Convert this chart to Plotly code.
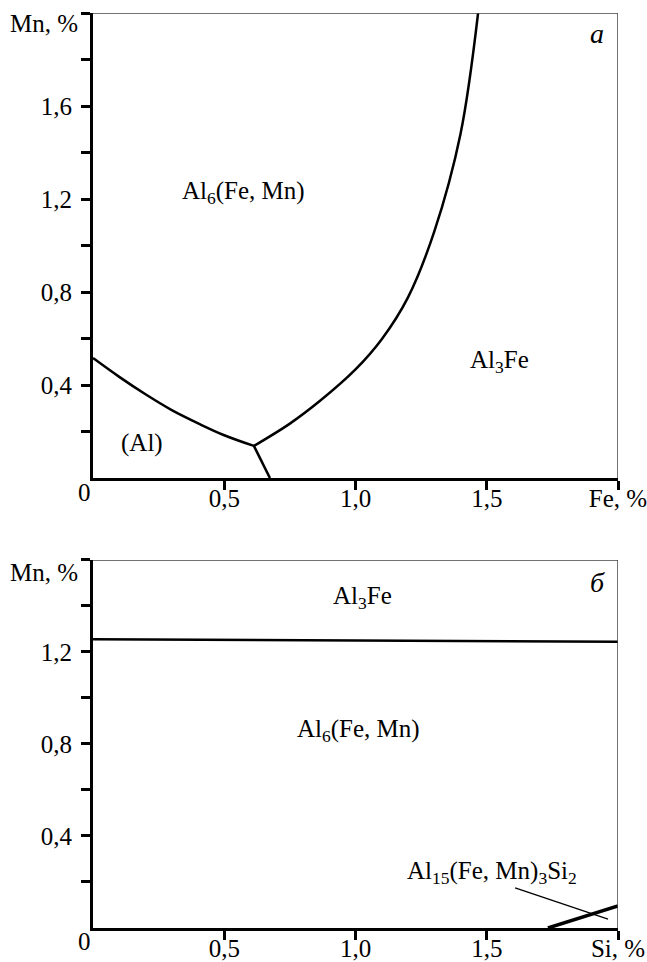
import plotly.graph_objects as go

# ---- data: panel a (Fe-Mn) ----
curve1_fe = [0.0, 0.1, 0.2, 0.3, 0.41, 0.5, 0.613]
curve1_mn = [0.516, 0.435, 0.36, 0.292, 0.23, 0.184, 0.138]
curve2_fe = [0.613, 0.75, 0.865, 1.0, 1.1, 1.2, 1.3, 1.4, 1.467]
curve2_mn = [0.138, 0.234, 0.332, 0.467, 0.597, 0.777, 1.06, 1.48, 2.0]
curve3_fe = [0.613, 0.674]
curve3_mn = [0.138, 0.0]

# ---- data: panel б (Si-Mn) ----
line_b1_si = [0.0, 2.0]
line_b1_mn = [1.255, 1.245]
line_b2_si = [1.733, 2.0]
line_b2_mn = [0.0, 0.096]
leader_si = [1.608, 1.962]
leader_mn = [0.174, 0.039]

x_tickvals = [0.5, 1.0, 1.5, 2.0]
x_ticktext_a = ["0,5", "1,0", "1,5", "Fe, %"]
x_ticktext_b = ["0,5", "1,0", "1,5", "Si, %"]
y_tickvals_a = [0.4, 0.8, 1.2, 1.6]
y_ticktext_a = ["0,4", "0,8", "1,2", "1,6"]
y_minor_a = [0.2, 0.6, 1.0, 1.4, 1.8, 2.0]
y_tickvals_b = [0.4, 0.8, 1.2]
y_ticktext_b = ["0,4", "0,8", "1,2"]
y_minor_b = [0.2, 0.6, 1.0, 1.4, 1.6]

FONT = "Liberation Serif, Times New Roman, Tinos, DejaVu Serif, serif"
fig = go.Figure()

line = dict(color="black", width=2.5)
fig.add_trace(go.Scatter(x=curve1_fe, y=curve1_mn, mode="lines", line=dict(line, shape="spline"), xaxis="x", yaxis="y"))
fig.add_trace(go.Scatter(x=curve2_fe, y=curve2_mn, mode="lines", line=dict(line, shape="spline"), xaxis="x", yaxis="y"))
fig.add_trace(go.Scatter(x=curve3_fe, y=curve3_mn, mode="lines", line=line, xaxis="x", yaxis="y"))

fig.add_trace(go.Scatter(x=line_b1_si, y=line_b1_mn, mode="lines", line=line, xaxis="x2", yaxis="y2"))
fig.add_trace(go.Scatter(x=line_b2_si, y=line_b2_mn, mode="lines", line=dict(color="black", width=3.5), xaxis="x2", yaxis="y2"))
fig.add_trace(go.Scatter(x=leader_si, y=leader_mn, mode="lines", line=dict(color="black", width=1.3), xaxis="x2", yaxis="y2"))

axis_common = dict(showgrid=False, zeroline=False, showline=True, linecolor="black", linewidth=3,
                   ticks="outside", ticklen=9, tickwidth=3, tickcolor="black", automargin=False,
                   tickfont=dict(family=FONT, size=25, color="black"))
minor_common = dict(ticks="outside", ticklen=9, tickwidth=3, tickcolor="black", showgrid=False)

fig.update_layout(
    width=647, height=962,
    margin=dict(l=93, r=29, t=13, b=34),
    paper_bgcolor="white", plot_bgcolor="white",
    showlegend=False,
    font=dict(family=FONT, size=25, color="black"),
    xaxis=dict(axis_common, domain=[0, 1], range=[0, 2.0], anchor="y",
               tickmode="array", tickvals=x_tickvals, ticktext=x_ticktext_a,
               ticklabeloverflow="allow", ticklabelstandoff=-13),
    yaxis=dict(axis_common, domain=[0.4918, 1.0], range=[0, 2.0], anchor="x",
               tickmode="array", tickvals=y_tickvals_a, ticktext=y_ticktext_a, ticklabelstandoff=4,
               minor=dict(minor_common, tickmode="array", tickvals=y_minor_a)),
    xaxis2=dict(axis_common, domain=[0, 1], range=[0, 2.0], anchor="y2",
                tickmode="array", tickvals=x_tickvals, ticktext=x_ticktext_b,
                ticklabeloverflow="allow", ticklabelstandoff=-13),
    yaxis2=dict(axis_common, domain=[0.0, 0.4022], range=[0, 1.6], anchor="x2",
                tickmode="array", tickvals=y_tickvals_b, ticktext=y_ticktext_b, ticklabelstandoff=4,
                minor=dict(minor_common, tickmode="array", tickvals=y_minor_b)),
)

border = dict(color="#444444", width=1.5)
fig.add_shape(type="line", xref="x", yref="y", x0=0, y0=2.0, x1=2.0, y1=2.0, line=border)
fig.add_shape(type="line", xref="x", yref="y", x0=2.0, y0=0, x1=2.0, y1=2.0, line=border)
fig.add_shape(type="line", xref="x2", yref="y2", x0=0, y0=1.6, x1=2.0, y1=1.6, line=border)
fig.add_shape(type="line", xref="x2", yref="y2", x0=2.0, y0=0, x1=2.0, y1=1.6, line=border)

def ann(text, x, y, xref, yref, **kw):
    d = dict(text=text, x=x, y=y, xref=xref, yref=yref, showarrow=False,
             xanchor="center", yanchor="middle",
             font=dict(family=FONT, size=25, color="black"))
    d.update(kw)
    fig.add_annotation(**d)

# panel a labels
ann("Al<sub>6</sub>(Fe, Mn)", 0.575, 1.226, "x", "y")
ann("Al<sub>3</sub>Fe", 1.55, 0.5, "x", "y")
ann("(Al)", 0.187, 0.15, "x", "y")
ann("<i>а</i>", 1.92, 1.91, "x", "y", font=dict(family=FONT, size=28, color="black"))
ann("Mn, %", (80 - 93) / 525, (928 - 23) / 915, "paper", "paper", xanchor="right")
ann("0", (84 - 93) / 525, (928 - 492) / 915, "paper", "paper")

# panel б labels
ann("Al<sub>3</sub>Fe", 1.025, 1.435, "x2", "y2")
ann("Al<sub>6</sub>(Fe, Mn)", 1.013, 0.86, "x2", "y2")
ann("Al<sub>15</sub>(Fe, Mn)<sub>3</sub>Si<sub>2</sub>", 1.52, 0.243, "x2", "y2")
ann("<i>б</i>", 1.92, 1.5, "x2", "y2", font=dict(family=FONT, size=28, color="black"))
ann("Mn, %", (80 - 93) / 525, (928 - 572) / 915, "paper", "paper", xanchor="right")
ann("0", (84 - 93) / 525, (928 - 941) / 915, "paper", "paper")

# remove the default page margin so the figure fills the 647x962 window exactly
fig.write_html("out.html", config={"displayModeBar": False},
               post_script="document.body.style.margin='0';document.body.style.overflow='hidden';")
